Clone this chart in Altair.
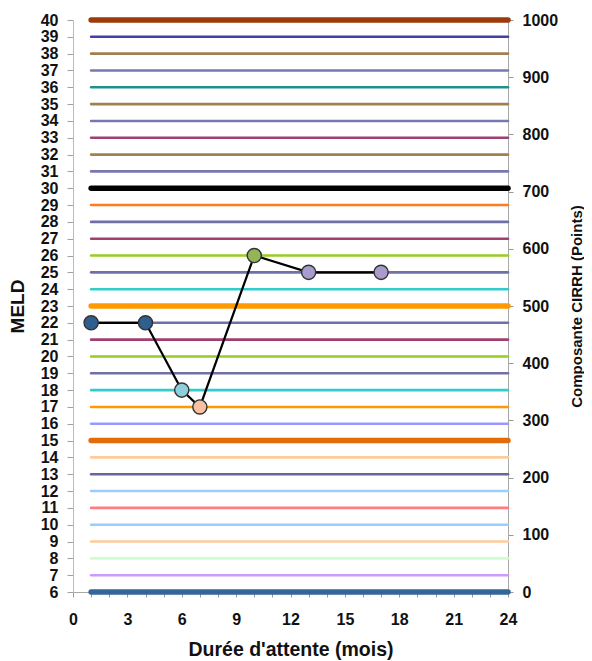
import altair as alt
import pandas as pd

# MELD reference levels (horizontal lines) and their colours
meld_levels = list(range(6, 41))
level_colors = [
    "#336699",  # 6
    "#CC99FF",  # 7
    "#CCFFCC",  # 8
    "#FFCC99",  # 9
    "#99CCFF",  # 10
    "#FF7C80",  # 11
    "#99CCFF",  # 12
    "#666699",  # 13
    "#FFCC99",  # 14
    "#E36C0A",  # 15
    "#9999FF",  # 16
    "#FF9900",  # 17
    "#33CCCC",  # 18
    "#7070A8",  # 19
    "#99CC22",  # 20
    "#A04070",  # 21
    "#7070A8",  # 22
    "#FF9900",  # 23
    "#33CCCC",  # 24
    "#7070A8",  # 25
    "#99CC22",  # 26
    "#A04070",  # 27
    "#7070A8",  # 28
    "#FF7A20",  # 29
    "#000000",  # 30
    "#7878B0",  # 31
    "#A08050",  # 32
    "#A04070",  # 33
    "#7878B0",  # 34
    "#A08050",  # 35
    "#20908C",  # 36
    "#7878B0",  # 37
    "#A08050",  # 38
    "#4040A8",  # 39
    "#9C3A0A",  # 40
]
thick_levels = [6, 15, 23, 30, 40]
line_start = 1
line_end = 24

# Patient trajectory
months = [1, 4, 6, 7, 10, 13, 17]
meld_values = [22, 22, 18, 17, 26, 25, 25]
point_colors = ["#2E5F8F", "#2E5F8F", "#8ECFDC", "#F9C1A0", "#92B558", "#A99BCB", "#A99BCB"]

# Right axis (CIRRH points)
cirrh_domain = [0, 1000]
cirrh_ticks = list(range(0, 1001, 100))
month_ticks = list(range(0, 25))

FONT = "Liberation Sans"

rules_df = pd.DataFrame({
    "meld": meld_levels,
    "color": level_colors,
    "w": [5.5 if m in thick_levels else 2.6 for m in meld_levels],
    "start": [line_start] * len(meld_levels),
    "end": [line_end] * len(meld_levels),
})
pts_df = pd.DataFrame({"month": months, "meld": meld_values, "pc": point_colors})
right_df = pd.DataFrame({"month": [0, 24], "pts": cirrh_domain})

x_scale = alt.Scale(domain=[0, 24], nice=False, zero=False)
y_scale = alt.Scale(domain=[6, 40], nice=False, zero=False)


def x_axis():
    return alt.Axis(
        values=month_ticks,
        labelExpr="datum.value % 3 == 0 ? datum.label : ''",
        title="Durée d'attente (mois)",
        grid=False,
        domainColor="#A8A8A8",
        tickColor="#999999",
        tickSize=5,
        labelPadding=14,
        labelFont=FONT, labelFontSize=16, labelFontWeight="bold", labelColor="#111111",
        labelFlush=False, labelOverlap=False,
        titleFont=FONT, titleFontSize=19.5, titleFontWeight="bold", titleColor="#111111",
        titleX=217.5, titleY=57, titleAlign="center", titleBaseline="middle",
    )


def y_axis():
    return alt.Axis(
        values=meld_levels,
        title="MELD",
        grid=False,
        domainColor="#B4BCD0",
        tickColor="#A0A0A0",
        tickSize=6,
        labelPadding=9,
        labelFont=FONT, labelFontSize=16, labelFontWeight="bold", labelColor="#111111",
        labelFlush=False, labelOverlap=False,
        titleFont=FONT, titleFontSize=19, titleFontWeight="bold", titleColor="#111111",
        titleAngle=270, titleX=-55.5, titleY=286, titleAlign="center", titleBaseline="middle",
    )


y2_axis = alt.Axis(
    orient="right",
    values=cirrh_ticks,
    format="d",
    title="Composante CIRRH (Points)",
    grid=False,
    domainColor="#A8A8A8",
    tickColor="#999999",
    tickSize=5,
    labelPadding=9,
    labelFont=FONT, labelFontSize=16, labelFontWeight="bold", labelColor="#111111",
    labelFlush=False, labelOverlap=False,
    titleFont=FONT, titleFontSize=15, titleFontWeight="bold", titleColor="#111111",
    titleAngle=270, titleX=73, titleY=286, titleAlign="center", titleBaseline="alphabetic",
)

rules = alt.Chart(rules_df).mark_rule(strokeCap="round").encode(
    x=alt.X("start:Q", scale=x_scale, axis=x_axis()),
    x2="end:Q",
    y=alt.Y("meld:Q", scale=y_scale, axis=y_axis()),
    color=alt.Color("color:N", scale=None),
    strokeWidth=alt.StrokeWidth("w:Q", scale=None),
)

traj = alt.Chart(pts_df).mark_line(color="black", strokeWidth=2.2).encode(
    x=alt.X("month:Q", scale=x_scale, axis=x_axis()),
    y=alt.Y("meld:Q", scale=y_scale, axis=y_axis()),
)

points = alt.Chart(pts_df).mark_circle(size=200, opacity=1, stroke="#333333", strokeWidth=1.4).encode(
    x=alt.X("month:Q", scale=x_scale, axis=x_axis()),
    y=alt.Y("meld:Q", scale=y_scale, axis=y_axis()),
    fill=alt.Fill("pc:N", scale=None),
)

right = alt.Chart(right_df).mark_point(opacity=0).encode(
    x=alt.X("month:Q", scale=x_scale, axis=x_axis()),
    y=alt.Y("pts:Q", scale=alt.Scale(domain=cirrh_domain, nice=False), axis=y2_axis),
)

chart = alt.layer(alt.layer(rules, traj, points), right).resolve_scale(
    y="independent"
).properties(
    width=435,
    height=572,
    autosize=alt.AutoSizeParams(type="none"),
    padding={"left": 65, "top": 12, "right": 76, "bottom": 69},
).configure_view(stroke=None)

chart.save("out.html", embed_options={"renderer": "svg", "actions": False})
